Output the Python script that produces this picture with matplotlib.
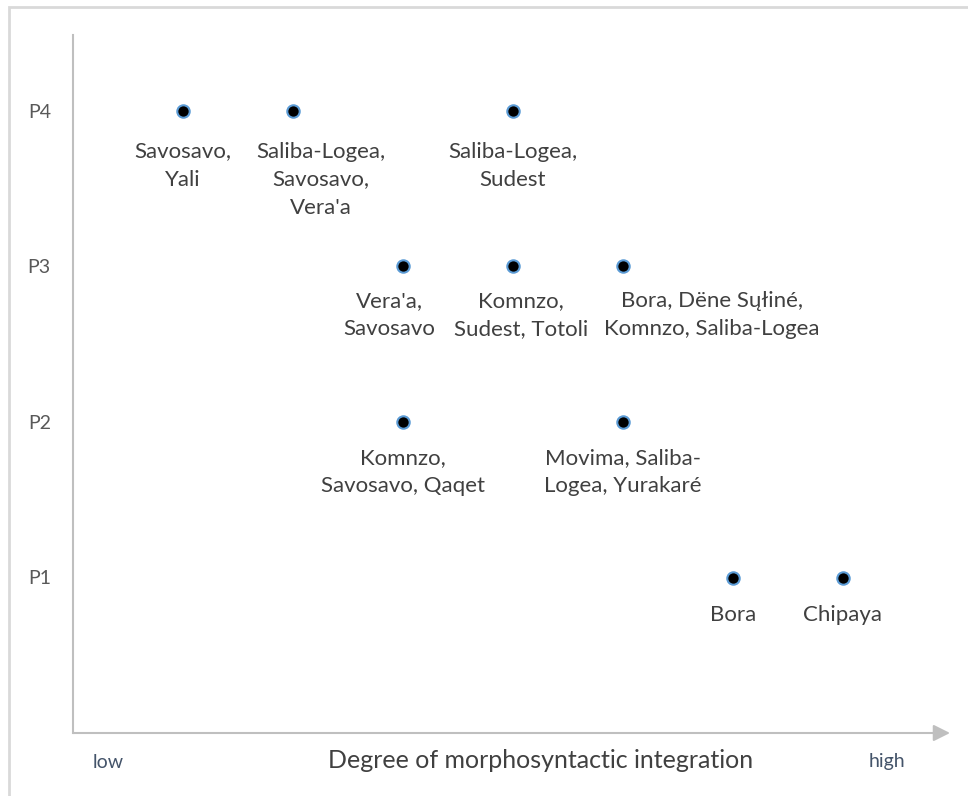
import matplotlib.pyplot as plt
from matplotlib.patches import Rectangle

plt.rcParams['font.family'] = ['Lato', 'DejaVu Sans']

# degree of integration (x) and P-level (y) of each point, with its language label
xs = [1, 2, 4, 3, 4, 5, 3, 5, 6, 7]
ys = [4, 4, 4, 3, 3, 3, 2, 2, 1, 1]
labels = [
    "Savosavo,\nYali",
    "Saliba-Logea,\nSavosavo,\nVera'a",
    "Saliba-Logea,\nSudest",
    "Vera'a,\nSavosavo",
    "Komnzo,\nSudest, Totoli",
    "Bora, Dëne Sųłiné,\nKomnzo, Saliba-Logea",
    "Komnzo,\nSavosavo, Qaqet",
    "Movima, Saliba-\nLogea, Yurakaré",
    "Bora",
    "Chipaya",
]
levels = [1, 2, 3, 4]
level_names = ["P1", "P2", "P3", "P4"]

# nudge of each label from its point (points), as placed in the original
label_dx = [0, 20, 0, -10, 6, 64, 0, 0, 0, 0]
label_dy = [-22, -22, -22, -18, -18, -18, -19, -19, -19.5, -19.5]

W, H = 968, 796
fig = plt.figure(figsize=(W / 100, H / 100), dpi=100)

# light frame around the picture (runs off the right and bottom edges)
fig.patches.append(Rectangle((8.5 / W, -0.05), 1.1, 1 - 6.5 / H + 0.05,
                             transform=fig.transFigure, fill=False,
                             edgecolor='#D9D9D9', linewidth=2))

ax = fig.add_axes([73 / W, 63 / H, (950 - 73) / W, (733 - 35) / H])
ax.set_xlim(0, (950 - 73) / 110)
ax.set_ylim(0, (733 - 35) / 155.5)

ax.scatter(xs, ys, s=80, color='black', edgecolor='#5B9BD5', linewidth=1.5, zorder=3)
for x, y, lab, dx, dy in zip(xs, ys, labels, label_dx, label_dy):
    ax.annotate(lab, (x, y), xytext=(dx, dy), textcoords='offset points',
                ha='center', va='top', fontsize=16, color='#404040',
                linespacing=1.5)

ax.set_yticks(levels)
ax.set_yticklabels(level_names, fontsize=14, color='#595959')
ax.set_xticks([])
ax.tick_params(axis='y', length=0, pad=16)

for side in ['top', 'right', 'bottom']:
    ax.spines[side].set_visible(False)
ax.spines['left'].set_color('#BFBFBF')
ax.spines['left'].set_linewidth(1.5)

ax.annotate('', xy=(1.0, 0), xytext=(0, 0), xycoords='axes fraction',
            arrowprops=dict(arrowstyle='-|>,head_length=1.0,head_width=0.5',
                            color='#BFBFBF', lw=1.5, shrinkA=0, shrinkB=0))

fig.text(541 / W, 1 - 760 / H, 'Degree of morphosyntactic integration',
         ha='center', va='center', fontsize=18, color='#404040')
fig.text(93 / W, 1 - 762 / H, 'low', ha='left', va='center', fontsize=14, color='#44546A')
fig.text(905 / W, 1 - 762 / H, 'high', ha='right', va='center', fontsize=14, color='#44546A')

fig.savefig('out.png', dpi=100)
